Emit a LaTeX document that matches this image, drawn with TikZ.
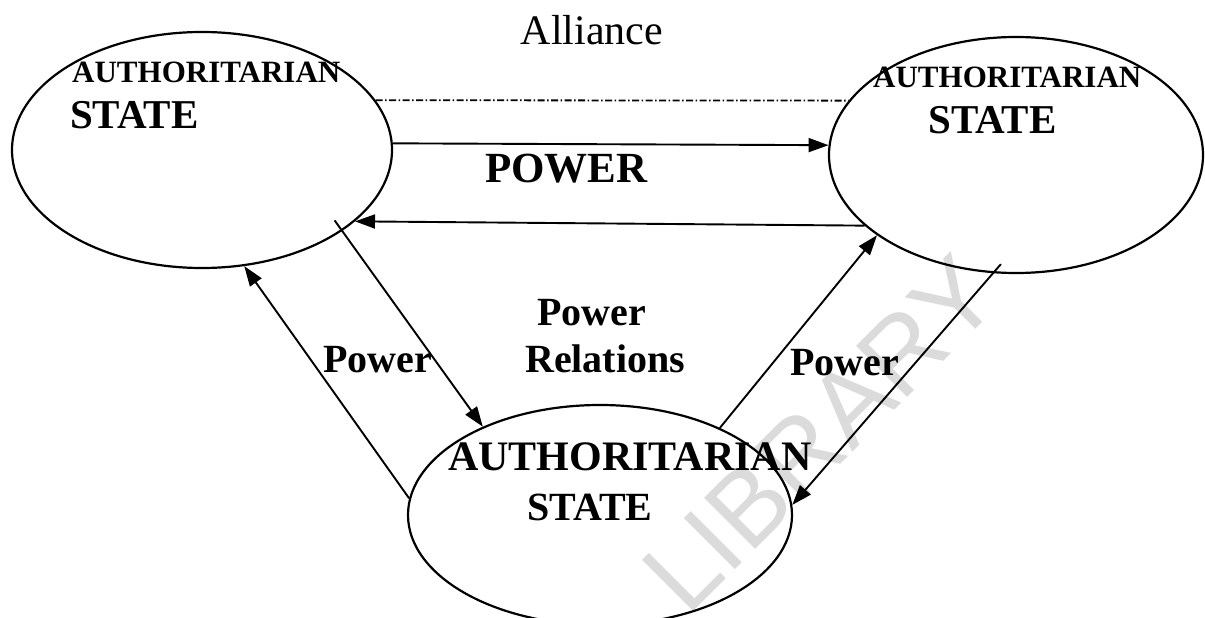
\documentclass[tikz,border=0pt]{standalone}
\usepackage{fontspec}
\setmainfont{Liberation Serif}
\newfontfamily\wmfont{Liberation Sans}
\usetikzlibrary{shapes.geometric,arrows.meta}
\begin{document}
\begin{tikzpicture}[x=1pt,y=-1pt,
  st/.style={ellipse, draw, line width=2.2pt, inner sep=0pt},
  arr/.style={line width=1.9pt, -{Triangle[length=20pt,width=14pt]}},
  lbl/.style={inner sep=0pt, anchor=base west, font=\bfseries\fontsize{#1}{#1}\selectfont},
  alliance/.style={line width=1.8pt, dash pattern=on 7pt off 2.5pt on 1.5pt off 2.5pt},
  ]
\useasboundingbox (0,0) rectangle (1205,618);
\fill[white] (0,0) rectangle (1205,618);
% watermark
\node[rotate=45, text=black!14, font=\wmfont\fontsize{105}{105}\selectfont, inner sep=0pt] (wm) at (820,434) {LIBRARY};
% states
\node[st, minimum width=380pt, minimum height=236pt] (A) at (202,150) {};
\node[st, minimum width=374pt, minimum height=236pt] (B) at (1016,155) {};
\node[st, minimum width=384pt, minimum height=220pt] (C) at (600,515) {};
% state labels
\node[lbl=31] (A1) at (72,82) {AUTHORITARIAN};
\node[lbl=41] (A2) at (70,128) {STATE};
\node[lbl=31] (B1) at (873,88) {AUTHORITARIAN};
\node[lbl=41] (B2) at (928,133) {STATE};
\node[lbl=42] (C1) at (448,470) {AUTHORITARIAN};
\node[lbl=40] (C2) at (527,520) {STATE};
% connectors
\draw[alliance] (A.16) -- (B.162);
\draw[arr] (A.2) -- (B.177.5);
\draw[arr] (B.-155.5) -- (A.-25);
\draw[arr, shorten <=-13pt] (A.-30.2) -- (C.143.4);
\draw[arr] (C.175) -- (A.-70.5);
\draw[arr] (C.36.5) -- (B.-150.5);
\draw[arr, shorten <=-12pt] (B.-101.1) -- (C.3.6);
% connector labels
\node[inner sep=0pt, anchor=base, font=\fontsize{42}{42}\selectfont] (al) at (592,45) {Alliance};
\node[lbl=43] (pw) at (485,182) {POWER};
\node[lbl=40] (pr1) at (537,325) {Power};
\node[lbl=40] (pr2) at (525,372) {Relations};
\node[lbl=40] (pl) at (323,372) {Power};
\node[lbl=40] (prt) at (790,375) {Power};
\end{tikzpicture}
\end{document}
